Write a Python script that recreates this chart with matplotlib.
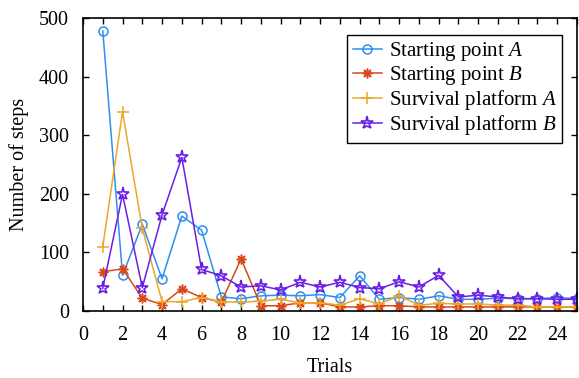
import numpy as np
import matplotlib.pyplot as plt

plt.rcParams['font.family'] = ['Liberation Serif', 'DejaVu Serif']
plt.rcParams['mathtext.fontset'] = 'custom'
plt.rcParams['mathtext.it'] = 'Liberation Serif:italic'
plt.rcParams['mathtext.rm'] = 'Liberation Serif'

trials = np.arange(1, 26)

start_a = [478, 61, 148, 55, 162, 138, 24, 21, 26, 27, 26, 28, 23, 60, 20,
           23, 20, 26, 20, 20, 22, 21, 21, 23, 21]
start_b = [67, 72, 22, 11, 38, 23, 15, 89, 9, 9, 14, 14, 7, 7, 9,
           9, 7, 7, 7, 7, 7, 7, 7, 7, 7]
surv_a = [110, 340, 141, 16, 16, 23, 16, 15, 17, 20, 14, 14, 10, 21, 12,
          26, 10, 13, 12, 12, 10, 10, 7, 7, 7]
surv_b = [39, 199, 40, 164, 262, 71, 60, 41, 43, 36, 49, 41, 49, 40, 38,
          50, 41, 61, 24, 27, 24, 21, 21, 20, 20]

fig = plt.figure(figsize=(5.79, 3.78), dpi=100)
ax = fig.add_axes([0.1434, 0.1772, 0.8531, 0.7752])

ax.plot(trials, start_a, color='#2e8ff0', lw=1.1, marker='o', ms=6.5,
        mfc='none', mew=1.1, label='Starting point $A$')
ax.plot(trials, start_b, color='#d9481a', lw=1.1, marker=(8, 2, 0), ms=7,
        mew=1.1, label='Starting point $B$')
ax.plot(trials, surv_a, color='#eda72a', lw=1.1, marker='+', ms=8,
        mew=1.1, label='Survival platform $A$')
ax.plot(trials, surv_b, color='#6a1fe6', lw=1.1, marker='*', ms=9.5,
        mfc='none', mew=1.2, label='Survival platform $B$')

ax.set_xlim(0, 25)
ax.set_ylim(0, 500)
ax.set_xticks(np.arange(0, 26))
ax.set_xticklabels([str(t) if t % 2 == 0 and t < 25 else '' for t in range(26)])
ax.set_yticks(np.arange(0, 501, 100))
ax.tick_params(direction='in', top=True, right=True, length=4, width=1,
               labelsize=14.5)
ax.tick_params(axis='x', pad=11)
ax.tick_params(axis='y', pad=10)
for s in ax.spines.values():
    s.set_linewidth(1.2)

ax.set_xlabel('Trials', fontsize=14.5, labelpad=9)
ax.set_ylabel('Number of steps', fontsize=14.5, labelpad=7)

leg = ax.legend(loc='upper right', bbox_to_anchor=(0.970, 0.942), fontsize=15,
                fancybox=False, edgecolor='black', framealpha=1,
                handlelength=1.4, handletextpad=0.35, borderpad=0.25,
                labelspacing=0.05, borderaxespad=0)
leg.get_frame().set_linewidth(1.0)

fig.savefig('out.png', dpi=100)
